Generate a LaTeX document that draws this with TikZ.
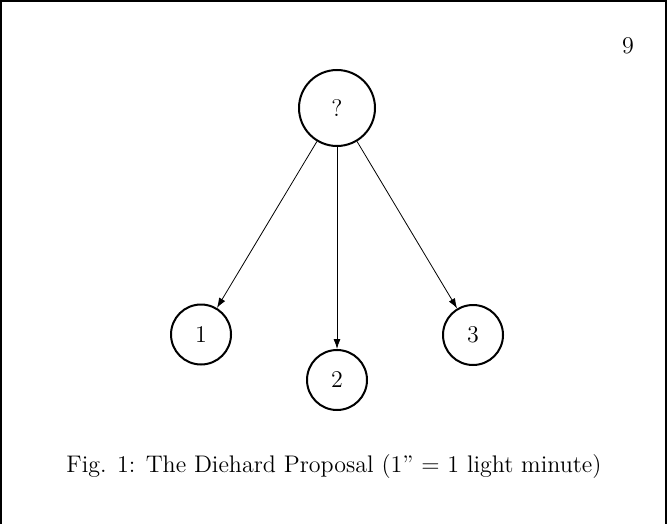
\documentclass[tikz,border=0pt]{standalone}
\usetikzlibrary{arrows.meta}
\begin{document}
\begin{tikzpicture}[x=0.5pt,y=-0.5pt,
  every node/.style={font=\fontsize{12}{14}\selectfont},
  bignode/.style={circle,draw,line width=1pt,minimum size=38pt,inner sep=0pt},
  smallnode/.style={circle,draw,line width=1pt,minimum size=30pt,inner sep=0pt},
  conn/.style={-{Latex[length=5pt,width=3.5pt]},line width=0.4pt},
  frameline/.style={line width=0.7pt}]
\useasboundingbox (0,0) rectangle (667,523);
\coordinate (bl) at (1,530);
\coordinate (tl) at (1,1);
\coordinate (tr) at (666,1);
\coordinate (br) at (666,530);
\draw[frameline] (bl) -- (tl) -- (tr) -- (br);
\node (page) at (628,46) {9};
\node[bignode] (q) at (337,108) {?};
\node[smallnode] (n1) at (201,334.5) {1};
\node[smallnode] (n2) at (337,380) {2};
\node[smallnode] (n3) at (473,335) {3};
\draw[conn] (q) -- (n1);
\draw[conn] (q) -- (n2);
\draw[conn] (q) -- (n3);
\node (cap) at (334,467) {Fig. 1: The Diehard Proposal (1'' = 1 light minute)};
\end{tikzpicture}
\end{document}
